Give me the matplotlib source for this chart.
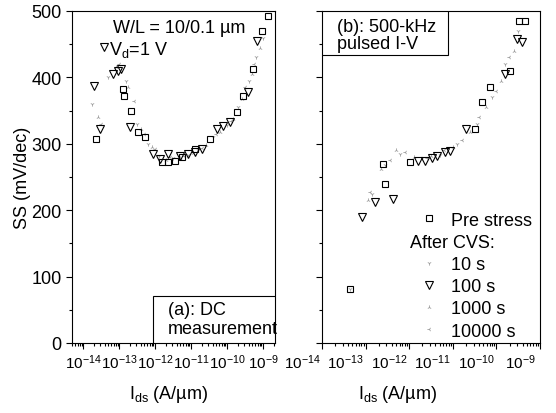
import matplotlib
matplotlib.use("Agg")
import matplotlib.pyplot as plt
import matplotlib.ticker as mticker
import matplotlib.transforms as mtransforms
from matplotlib.lines import Line2D
from matplotlib.patches import Rectangle

plt.rcParams['font.family'] = ['Liberation Sans', 'DejaVu Sans']
plt.rcParams['mathtext.fontset'] = 'custom'
plt.rcParams['mathtext.rm'] = 'Liberation Sans'
plt.rcParams['mathtext.default'] = 'regular'

# ---- (a) DC measurement: log10(Ids), SS ----
a_pre_x = [-13.64, -12.90, -12.86, -12.67, -12.47, -12.28, -11.81, -11.64, -11.44, -11.25,
           -10.89, -10.47, -9.72, -9.56, -9.28, -9.03, -8.86]
a_pre_y = [307, 382, 372, 349, 318, 310, 273, 273, 274, 280, 292, 307, 348, 372, 413, 470, 492]
a_100_x = [-13.42, -13.69, -13.53, -13.17, -13.03, -12.94, -12.69, -12.06, -11.86, -11.64, -11.31,
           -11.08, -10.89, -10.69, -10.28, -10.11, -9.92, -9.42, -9.17]
a_100_y = [446, 387, 322, 405, 410, 413, 325, 285, 277, 285, 282, 285, 288, 292, 322, 327, 333, 378, 455]
a_10_x = [-13.75, -13.3, -12.8, -12.5, -12.2, -11.9, -11.5, -11.1, -10.8, -10.4, -10.0, -9.7, -9.4, -9.2, -9.0]
a_10_y = [360, 400, 395, 330, 300, 282, 278, 283, 290, 310, 328, 355, 395, 430, 460]
a_1k_x = [-13.6, -13.1, -12.75, -12.4, -12.1, -11.7, -11.3, -10.95, -10.6, -10.2, -9.85, -9.6, -9.3, -9.1]
a_1k_y = [340, 415, 385, 322, 295, 276, 279, 286, 298, 318, 338, 368, 405, 445]
a_10k_x = [-13.5, -13.0, -12.6, -12.3, -12.0, -11.6, -11.2, -10.7, -10.3, -9.9, -9.5, -9.25]
a_10k_y = [330, 420, 365, 315, 292, 280, 282, 294, 315, 335, 385, 420]

# ---- (b) 500-kHz pulsed I-V ----
b_pre_x = [-13.36, -12.60, -12.56, -11.98, -10.49, -10.33, -10.15, -9.69, -9.48, -9.34]
b_pre_y = [81, 270, 239, 272, 322, 363, 386, 410, 485, 485]
b_100_x = [-13.08, -12.78, -12.37, -11.80, -11.64, -11.48, -11.36, -11.18, -11.06, -10.70, -9.80, -9.53, -9.41]
b_100_y = [190, 212, 217, 274, 274, 279, 282, 288, 289, 322, 405, 458, 453]
b_10_x = [-13.35, -12.85, -12.55, -12.2, -11.7, -11.3, -10.9, -10.45, -10.1, -9.8, -9.5]
b_10_y = [81, 225, 268, 285, 278, 283, 300, 330, 370, 420, 470]
b_1k_x = [-12.95, -12.65, -12.3, -11.9, -11.5, -11.0, -10.6, -10.25, -9.9, -9.6]
b_1k_y = [215, 262, 290, 280, 281, 295, 318, 355, 395, 440]
b_10k_x = [-12.9, -12.45, -12.1, -11.6, -11.2, -10.8, -10.4, -10.0, -9.7]
b_10k_y = [228, 275, 288, 279, 290, 305, 340, 380, 430]

decades = [1e-14, 1e-13, 1e-12, 1e-11, 1e-10, 1e-9]

fig = plt.figure(figsize=(5.56, 4.14), dpi=100)
ax1 = fig.add_axes([72/556, 70/414, 203/556, 332/414])
ax2 = fig.add_axes([322/556, 70/414, 218/556, 332/414])


def pts(xs):
    return [10 ** v for v in xs]


def draw(ax, pre, s10, s100, s1k, s10k):
    faint = dict(ls='none', color='0.62', ms=3, mew=0.6)
    ax.plot(pts(s10[0]), s10[1], marker='1', **faint)
    ax.plot(pts(s1k[0]), s1k[1], marker='2', **faint)
    ax.plot(pts(s10k[0]), s10k[1], marker='3', **faint)
    ax.plot(pts(pre[0]), pre[1], ls='none', marker='s', ms=5, mfc='none', mec='black', mew=0.8)
    ax.plot(pts(s100[0]), s100[1], ls='none', marker='v', ms=6, mfc='none', mec='black', mew=0.8)


draw(ax1, (a_pre_x, a_pre_y), (a_10_x, a_10_y), (a_100_x, a_100_y), (a_1k_x, a_1k_y), (a_10k_x, a_10k_y))
draw(ax2, (b_pre_x, b_pre_y), (b_10_x, b_10_y), (b_100_x, b_100_y), (b_1k_x, b_1k_y), (b_10k_x, b_10k_y))

for ax in (ax1, ax2):
    ax.set_xscale('log')
    ax.set_ylim(0, 500)
    ax.xaxis.set_major_locator(mticker.FixedLocator(decades))
    ax.xaxis.set_major_formatter(mticker.LogFormatterSciNotation())
    ax.xaxis.set_minor_locator(mticker.LogLocator(base=10, subs=range(2, 10), numticks=20))
    ax.xaxis.set_minor_formatter(mticker.NullFormatter())
    ax.yaxis.set_major_locator(mticker.MultipleLocator(100))
    ax.yaxis.set_minor_locator(mticker.MultipleLocator(50))
    ax.tick_params(which='both', direction='out', top=False, right=False, width=0.8)
    ax.tick_params(which='major', length=4)
    ax.tick_params(which='minor', length=2.5)
    ax.tick_params(axis='x', labelsize=11, pad=3)
    ax.tick_params(axis='y', labelsize=13)
    for s in ax.spines.values():
        s.set_linewidth(0.8)
ax2.tick_params(axis='y', labelleft=False)

ax1.set_xlim(10 ** -14.31, 10 ** -8.67)
ax2.set_xlim(1e-14, 1e-9)

ax1.set_ylabel('SS (mV/dec)', fontsize=13, labelpad=0)
ax1.set_xlabel('I$_{ds}$ (A/µm)', fontsize=13)
ax2.set_xlabel('I$_{ds}$ (A/µm)', fontsize=13)
ax1.xaxis.set_label_coords(0.478, -0.12)
ax2.xaxis.set_label_coords(0.349, -0.12)

fig.canvas.draw()
shift = mtransforms.ScaledTranslation(-0.2, 0, fig.dpi_scale_trans)
for lab in ax2.get_xticklabels():
    lab.set_transform(lab.get_transform() + shift)

ax1.text(0.2, 0.95, 'W/L = 10/0.1 µm', transform=ax1.transAxes, fontsize=13, va='center')
ax1.text(0.18, 0.885, 'V$_d$=1 V', transform=ax1.transAxes, fontsize=13, va='center')

ax1.add_patch(Rectangle((0.40, 0.0), 0.60, 0.142, transform=ax1.transAxes,
                        fc='white', ec='black', lw=0.8, zorder=3))
ax1.text(0.473, 0.072, '(a): DC\nmeasurement', transform=ax1.transAxes, fontsize=13, va='center',
         linespacing=1.1, zorder=4)

ax2.add_patch(Rectangle((0.0, 0.867), 0.578, 0.133, transform=ax2.transAxes,
                        fc='white', ec='black', lw=0.8, zorder=3))
ax2.text(0.069, 0.928, '(b): 500-kHz\npulsed I-V', transform=ax2.transAxes, fontsize=13, va='center',
         linespacing=0.95, zorder=4)

handles = ax2.get_lines()
blank = Line2D([], [], ls='none')
leg_handles = [handles[3], blank, handles[0], handles[4], handles[1], handles[2]]
leg_labels = ["Pre stress", " ", "10 s", "100 s", "1000 s", "10000 s"]
ax2.legend(leg_handles, leg_labels, loc='upper left', bbox_to_anchor=(0.45, 0.396), frameon=False,
           fontsize=13, handlelength=1.0, handletextpad=0.7, labelspacing=0.29, borderpad=0,
           borderaxespad=0)
ax2.text(0.405, 0.304, 'After CVS:', transform=ax2.transAxes, fontsize=13, va='center')

fig.savefig('out.png', dpi=100)
